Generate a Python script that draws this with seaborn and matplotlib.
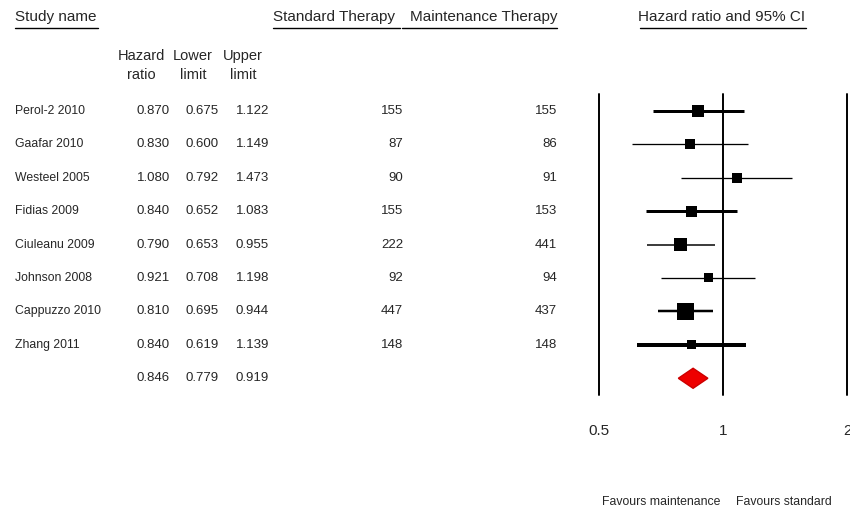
import numpy as np
import pandas as pd
import seaborn as sns
import matplotlib.pyplot as plt
from matplotlib.patches import Polygon
from matplotlib.lines import Line2D
from matplotlib.transforms import blended_transform_factory
from matplotlib.ticker import NullLocator

# data
studies = ['Perol-2 2010', 'Gaafar 2010', 'Westeel 2005', 'Fidias 2009',
           'Ciuleanu 2009', 'Johnson 2008', 'Cappuzzo 2010', 'Zhang 2011']
hazard = [0.870, 0.830, 1.080, 0.840, 0.790, 0.921, 0.810, 0.840]
lower = [0.675, 0.600, 0.792, 0.652, 0.653, 0.708, 0.695, 0.619]
upper = [1.122, 1.149, 1.473, 1.083, 0.955, 1.198, 0.944, 1.139]
n_standard = [155, 87, 90, 155, 222, 92, 447, 148]
n_maintenance = [155, 86, 91, 153, 441, 94, 437, 148]
pooled = [0.846, 0.779, 0.919]  # hazard ratio, lower, upper
x_ticks = [0.5, 1, 2]
x_ticklabels = ['0.5', '1', '2']

df = pd.DataFrame({'study': studies, 'hr': hazard, 'lo': lower, 'hi': upper,
                   'std': n_standard, 'mnt': n_maintenance})
df['row'] = np.arange(len(df))

sns.set_style('white')
plt.rcParams['font.family'] = ['Liberation Sans', 'DejaVu Sans']

W, H = 850, 513
fig = plt.figure(figsize=(8.5, 5.13), dpi=100)


def fx(px):
    return px / W


def fy(py):
    return 1 - py / H


# forest panel
ax = fig.add_axes([fx(599), fy(395), fx(847) - fx(599), fy(94) - fy(395)])
ax.set_xscale('log')
ax.set_xlim(0.5, 2)
ax.set_ylim(len(df) + 0.5, -0.5)

# box sizes / line widths as they look in the picture (px)
box_px = [12, 10, 10, 11, 13, 9, 17, 9]
ci_px = [3, 1.3, 1.3, 3, 1.5, 1.3, 2.5, 4]

for x in x_ticks:
    ax.axvline(x, color='black', lw=1.4, clip_on=False, zorder=1)

ax.hlines(df['row'], df['lo'], df['hi'], colors='black',
          linewidths=[p * 0.72 for p in ci_px], zorder=2)
sns.scatterplot(data=df, x='hr', y='row', marker='s', size='study',
                sizes=dict(zip(studies, [(p * 0.72) ** 2 for p in box_px])),
                color='black', linewidth=0, legend=False, ax=ax, zorder=3)

r = len(df)
diamond = Polygon([[pooled[1], r], [pooled[0], r - 0.3],
                   [pooled[2], r], [pooled[0], r + 0.3]],
                  closed=True, facecolor='#ee0000', edgecolor='#cc0000', zorder=3)
ax.add_patch(diamond)

ax.set_xticks(x_ticks)
ax.set_xticklabels(x_ticklabels, fontsize=11)
ax.xaxis.set_minor_locator(NullLocator())
ax.tick_params(axis='x', length=0, pad=21)
ax.set_yticks([])
ax.set_xlabel('')
ax.set_ylabel('')
sns.despine(ax=ax, left=True, bottom=True)

# table on the left
tr = blended_transform_factory(fig.transFigure, ax.transData)
num_fs = 9.5
for row in df.itertuples():
    fig.text(fx(15), row.row, row.study, transform=tr, va='center', fontsize=8.8)
    fig.text(fx(170), row.row, f'{row.hr:.3f}', transform=tr, va='center', ha='right', fontsize=num_fs)
    fig.text(fx(219), row.row, f'{row.lo:.3f}', transform=tr, va='center', ha='right', fontsize=num_fs)
    fig.text(fx(269), row.row, f'{row.hi:.3f}', transform=tr, va='center', ha='right', fontsize=num_fs)
    fig.text(fx(403), row.row, str(row.std), transform=tr, va='center', ha='right', fontsize=num_fs)
    fig.text(fx(557), row.row, str(row.mnt), transform=tr, va='center', ha='right', fontsize=num_fs)

fig.text(fx(170), r, f'{pooled[0]:.3f}', transform=tr, va='center', ha='right', fontsize=num_fs)
fig.text(fx(219), r, f'{pooled[1]:.3f}', transform=tr, va='center', ha='right', fontsize=num_fs)
fig.text(fx(269), r, f'{pooled[2]:.3f}', transform=tr, va='center', ha='right', fontsize=num_fs)

# headers
fig.text(fx(15), fy(17), 'Study name', fontsize=11, va='center')
fig.text(fx(273), fy(17), 'Standard Therapy', fontsize=11, va='center')
fig.text(fx(557), fy(17), 'Maintenance Therapy', fontsize=11, va='center', ha='right')
fig.text(fx(722), fy(17), 'Hazard ratio and 95% CI', fontsize=11, va='center', ha='center')
for x0, x1 in [(15, 98), (273, 400), (402, 557), (640, 806)]:
    fig.add_artist(Line2D([fx(x0), fx(x1)], [fy(28), fy(28)], color='black', lw=1))

for cx, top, bottom in [(141, 'Hazard', 'ratio'), (193, 'Lower', 'limit'), (243, 'Upper', 'limit')]:
    fig.text(fx(cx), fy(56), top, fontsize=10.5, ha='center', va='center')
    fig.text(fx(cx), fy(75), bottom, fontsize=10.5, ha='center', va='center')

fig.text(fx(720), fy(502), 'Favours maintenance', fontsize=8.8, ha='right', va='center')
fig.text(fx(736), fy(502), 'Favours standard', fontsize=8.8, ha='left', va='center')

fig.savefig('out.png', dpi=100)
